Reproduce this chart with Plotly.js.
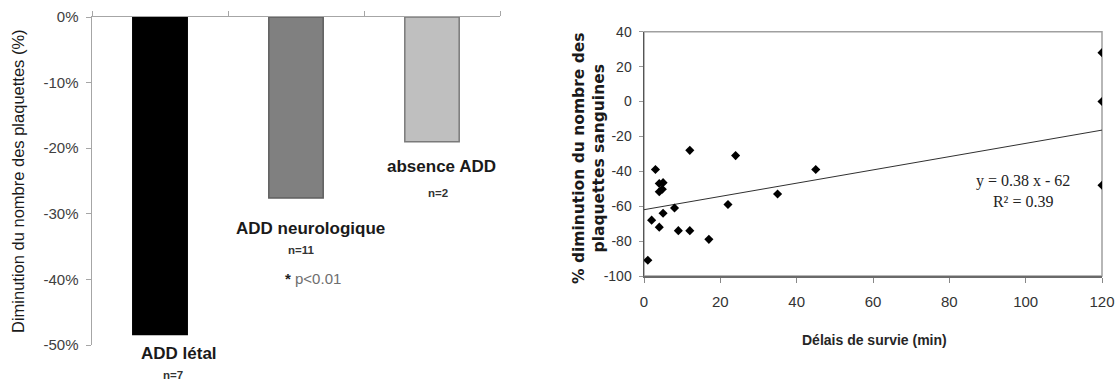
<!DOCTYPE html>
<html>
<head>
<meta charset="utf-8">
<script src="https://cdn.plot.ly/plotly-3.0.1.min.js"></script>
<style>html,body{margin:0;padding:0;background:#fff;}#chart{width:1117px;height:383px;}</style>
</head>
<body>
<div id="chart"></div>
<script>
// ---- Data ----
const categories = ['ADD létal', 'ADD neurologique', 'absence ADD'];
const groupCounts = ['n=7', 'n=11', 'n=2'];
const plateletDecrease = [-48.4, -27.6, -19.0];
const barTickVals = [0, -10, -20, -30, -40, -50];
const barTickText = ['0%', '-10%', '-20%', '-30%', '-40%', '-50%'];
const significanceText = 'p&lt;0.01';

const survivalMin = [1, 2, 3, 4, 5, 4, 4.8, 4, 5, 8, 9, 12, 12, 17, 22, 24, 35, 45, 120, 120, 120];
const plateletChange = [-91, -68, -39, -47, -46.5, -51.7, -50.3, -72, -64, -61, -74, -28, -74, -79, -59, -31, -53, -39, 28, 0, -48];
const fitSlope = 0.38;
const fitIntercept = -62;
const fitR2 = 0.39;
const scatterXTicks = [0, 20, 40, 60, 80, 100, 120];
const scatterYTicks = [40, 20, 0, -20, -40, -60, -80, -100];
const scatterYTickText = ['40', '20', '0', '-20', '-40', '-60', '-80', '-100'];

// ---- Styles ----
const W = 1117, H = 383;
const px = v => v / W, py = v => 1 - v / H;
const sans = '"Liberation Sans", Arial, sans-serif';
const serif = '"Liberation Serif", "Times New Roman", serif';
const barFill = ['#000000', '#808080', '#bfbfbf'];
const barLine = ['#000000', '#5f5f5f', '#7a7a7a'];
// label offsets (px) relative to each bar end
const nameShift = [[19, -19], [14, -30], [9, -25]];
const countShift = [[13, -40], [5, -52], [6, -51]];

const fitX = [0, Math.max(...survivalMin)];
const fitY = fitX.map(x => fitSlope * x + fitIntercept);

const traces = [
  {
    type: 'bar', x: categories, y: plateletDecrease, xaxis: 'x', yaxis: 'y',
    width: 0.4,
    marker: {color: barFill, line: {color: barLine, width: 1.5}},
    hoverinfo: 'skip', showlegend: false
  },
  {
    type: 'scatter', mode: 'lines', x: fitX, y: fitY, xaxis: 'x2', yaxis: 'y2',
    line: {color: '#303030', width: 1}, hoverinfo: 'skip', showlegend: false
  },
  {
    type: 'scatter', mode: 'markers', x: survivalMin, y: plateletChange, xaxis: 'x2', yaxis: 'y2',
    marker: {symbol: 'diamond', size: 7, color: '#000'}, showlegend: false
  }
];

const annotations = [];
categories.forEach((c, i) => {
  annotations.push({
    xref: 'x', yref: 'y', x: c, y: plateletDecrease[i], text: c, showarrow: false,
    xshift: nameShift[i][0], yshift: nameShift[i][1], xanchor: 'center', yanchor: 'middle',
    font: {family: sans, size: 17, color: '#1a1a1a', weight: 'bold'}
  });
  annotations.push({
    xref: 'x', yref: 'y', x: c, y: plateletDecrease[i], text: groupCounts[i], showarrow: false,
    xshift: countShift[i][0], yshift: countShift[i][1], xanchor: 'center', yanchor: 'middle',
    font: {family: sans, size: 11.5, color: '#333', weight: 'bold'}
  });
});
annotations.push({
  xref: 'x', yref: 'y', x: categories[1], y: plateletDecrease[1],
  text: '<b>*</b> <span style="color:#6e6e6e">' + significanceText + '</span>', showarrow: false,
  xshift: 17, yshift: -80, xanchor: 'center', yanchor: 'middle',
  font: {family: sans, size: 15, color: '#222'}
});
annotations.push({
  xref: 'paper', yref: 'paper', x: px(18), y: py(181), textangle: -90, showarrow: false,
  text: 'Diminution du nombre des plaquettes (%)', xanchor: 'center', yanchor: 'middle',
  font: {family: sans, size: 16.5, color: '#1a1a1a'}
});
annotations.push({
  xref: 'paper', yref: 'paper', x: px(589), y: py(158), textangle: -90, showarrow: false,
  text: '% diminution du nombre des<br>plaquettes sanguines', xanchor: 'center', yanchor: 'middle',
  font: {family: '"DejaVu Sans", sans-serif', size: 15.5, color: '#1a1a1a', weight: 'bold'}
});
annotations.push({
  xref: 'paper', yref: 'paper', x: px(874), y: py(340), showarrow: false,
  text: 'Délais de survie (min)', xanchor: 'center', yanchor: 'middle',
  font: {family: sans, size: 14, color: '#262626', weight: 'bold'}
});
annotations.push({
  xref: 'paper', yref: 'paper', x: px(1023), y: py(191), showarrow: false, align: 'center',
  text: 'y = ' + fitSlope.toFixed(2) + ' x - ' + Math.abs(fitIntercept) + '<br>R² = ' + fitR2.toFixed(2),
  xanchor: 'center', yanchor: 'middle',
  font: {family: serif, size: 16, color: '#222'}
});

const layout = {
  width: W, height: H,
  margin: {l: 0, r: 0, t: 0, b: 0},
  paper_bgcolor: '#fff', plot_bgcolor: '#fff',
  showlegend: false,
  xaxis: {
    domain: [px(92), px(500)], anchor: 'y', side: 'top', type: 'category',
    range: [-0.5, 2.5], showline: true, linecolor: '#a6a6a6', linewidth: 1.5,
    ticks: 'outside', tickson: 'boundaries', ticklen: 5, tickcolor: '#a6a6a6',
    showticklabels: false, showgrid: false, zeroline: false, fixedrange: true
  },
  yaxis: {
    domain: [py(345), py(17)], anchor: 'x', range: [-50, 0],
    tickmode: 'array', tickvals: barTickVals, ticktext: barTickText,
    showline: true, linecolor: '#a6a6a6', linewidth: 1.5,
    ticks: 'outside', ticklen: 5, tickcolor: '#a6a6a6', ticklabelstandoff: 4,
    tickfont: {family: sans, size: 15, color: '#404040'},
    showgrid: false, zeroline: false, fixedrange: true
  },
  xaxis2: {
    domain: [px(644), px(1102)], anchor: 'y2', range: [0, 120],
    tickmode: 'array', tickvals: scatterXTicks,
    showline: true, linecolor: '#6a6a6a', linewidth: 2,
    ticks: 'outside', ticklen: 5, tickcolor: '#888', ticklabelstandoff: 6,
    tickfont: {family: sans, size: 15, color: '#333'},
    showgrid: false, zeroline: false, fixedrange: true
  },
  yaxis2: {
    domain: [py(276), py(31.7)], anchor: 'x2', range: [-100, 40],
    tickmode: 'array', tickvals: scatterYTicks, ticktext: scatterYTickText,
    showline: true, linecolor: '#555', linewidth: 1.5,
    ticks: 'outside', ticklen: 4, tickcolor: '#999', ticklabelstandoff: 4,
    tickfont: {family: sans, size: 14, color: '#333'},
    showgrid: false, zeroline: false, fixedrange: true
  },
  shapes: [{
    type: 'rect', xref: 'x2 domain', yref: 'y2 domain', x0: 0, x1: 1, y0: 0, y1: 1,
    line: {color: '#a0a0a0', width: 1.5}, layer: 'below'
  }],
  annotations: annotations
};

Plotly.newPlot('chart', traces, layout, {staticPlot: true, displayModeBar: false});
</script>
</body>
</html>
